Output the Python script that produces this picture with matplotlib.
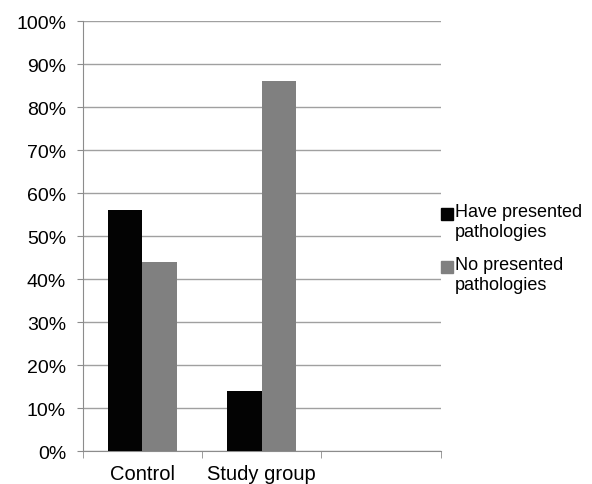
import numpy as np
import matplotlib.pyplot as plt
from matplotlib.patches import Rectangle
from matplotlib.ticker import FixedLocator, FuncFormatter

plt.rcParams['font.family'] = ['Liberation Sans', 'DejaVu Sans']

categories = ['Control', 'Study group', '']
series_names = ['Have presented\npathologies', 'No presented\npathologies']
have_pathologies = [56, 14]
no_pathologies = [44, 86]
series_colors = ['#030303', '#808080']

fig = plt.figure(figsize=(5.92, 4.85), dpi=100)
ax = fig.add_axes([0.1397, 0.068, 0.6047, 0.8866])

x = np.arange(len(have_pathologies)) + 0.5
w = 0.29
for vals, off, col in zip([have_pathologies, no_pathologies], [-w / 2, w / 2], series_colors):
    ax.bar(x + off, vals, width=w, color=col, zorder=3, linewidth=0)

ax.set_xlim(0, len(categories))
ax.set_ylim(0, 100)

# gridlines and axis styling
ax.yaxis.set_major_locator(FixedLocator(np.arange(0, 101, 10)))
ax.yaxis.set_major_formatter(FuncFormatter(lambda v, p: f'{int(v)}%'))
ax.grid(axis='y', color='#a0a0a0', linewidth=1.0, zorder=0)
for s in ['top', 'right']:
    ax.spines[s].set_visible(False)
ax.spines['left'].set_color('#8c8c8c')
ax.spines['bottom'].set_color('#8c8c8c')
ax.spines['left'].set_zorder(4)
ax.tick_params(axis='y', length=4, color='#8c8c8c', pad=8, labelsize=14)

ax.set_xticks(np.arange(len(categories)) + 0.5)
ax.set_xticklabels(categories)
ax.set_xticks(np.arange(len(categories) + 1), minor=True)
ax.tick_params(axis='x', which='major', length=0, pad=9, labelsize=14.5)
ax.tick_params(axis='x', which='minor', length=5, color='#8c8c8c')

# legend: square marker beside the first text line of each entry
leg_x = 441 / 592
leg_y = [215 / 485, 268 / 485]
sq = 12
for name, col, yy in zip(series_names, series_colors, leg_y):
    fig.patches.append(Rectangle((leg_x, 1 - yy - sq / 2 / 485), sq / 592, sq / 485,
                                 transform=fig.transFigure, color=col, figure=fig))
    fig.text(leg_x + (sq + 2) / 592, 1 - yy + 11 / 485, name, fontsize=13,
             va='top', ha='left', linespacing=1.2)

fig.savefig('out.png', dpi=100)
